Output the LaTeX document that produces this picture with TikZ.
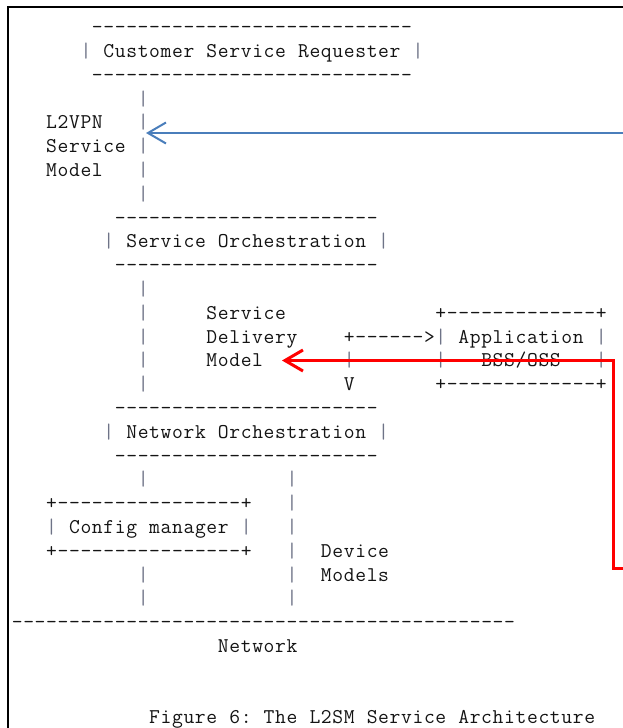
\documentclass[tikz,border=0pt]{standalone}
\usepackage{fontspec}
\usetikzlibrary{arrows.meta}
\definecolor{txtcol}{RGB}{20,20,20}
\definecolor{pipecol}{RGB}{110,115,135}
\definecolor{bluearr}{RGB}{74,126,187}
\definecolor{redarr}{RGB}{255,0,0}
\newlength\cw
\setlength\cw{11.45pt}
\def\mono#1{\monoA#1\relax}
\def\monoA#1{\ifx#1\relax\else\makebox[\cw][c]{\ifx#1|\color{pipecol}\fi#1}\expandafter\monoA\fi}
\tikzset{
  asc/.style={inner sep=0pt, outer sep=0pt, anchor=base west, text=txtcol,
    font=\ttfamily\fontsize{21}{23.8}\selectfont},
  frameline/.style={line width=2pt, black},
  bluearrow/.style={line width=2pt, bluearr, -{Straight Barb[length=18pt,width=21pt,line width=2pt]}},
  redarrow/.style={line width=3pt, redarr, line join=miter, -{Straight Barb[length=18pt,width=21pt,line width=3pt]}}
}
\newcommand\cx[1]{11.5+11.45*#1}
\newcommand\ry[1]{-(33.7+23.8*#1)}
\begin{document}
\begin{tikzpicture}[x=1pt,y=1pt]
\useasboundingbox (0,0) rectangle (623,-728);
\fill[white] (0,0) rectangle (623,-728);
% frame
\draw[frameline] (8.3,-728) -- (8.3,-6.8) -- (623,-6.8);
% Customer Service Requester
\node[asc] (csrTop) at ({\cx{7}},{\ry{0}}) {\mono{----------------------------}};
\node[asc] (csr) at ({\cx{6}},{\ry{1}}) {\mono{|~Customer~Service~Requester~|}};
\node[asc] (csrBot) at ({\cx{7}},{\ry{2}}) {\mono{----------------------------}};
% L2VPN service model
\node[asc] (v3) at ({\cx{11}},{\ry{3}}) {\mono{|}};
\node[asc] (l2a) at ({\cx{3}},{\ry{4}}) {\mono{L2VPN~~~|}};
\node[asc] (l2b) at ({\cx{3}},{\ry{5}}) {\mono{Service~|}};
\node[asc] (l2c) at ({\cx{3}},{\ry{6}}) {\mono{Model~~~|}};
\node[asc] (v7) at ({\cx{11}},{\ry{7}}) {\mono{|}};
% Service Orchestration
\node[asc] (soTop) at ({\cx{9}},{\ry{8}}) {\mono{-----------------------}};
\node[asc] (so) at ({\cx{8}},{\ry{9}}) {\mono{|~Service~Orchestration~|}};
\node[asc] (soBot) at ({\cx{9}},{\ry{10}}) {\mono{-----------------------}};
% Service delivery model
\node[asc] (v11) at ({\cx{11}},{\ry{11}}) {\mono{|}};
\node[asc] (sdA) at ({\cx{11}},{\ry{12}}) {\mono{|~~~~~Service}};
\node[asc] (appTop) at ({\cx{37}},{\ry{12}}) {\mono{+-------------+}};
\node[asc] (sdB) at ({\cx{11}},{\ry{13}}) {\mono{|~~~~~Delivery~~~~+------>|~Application~|}};
\node[asc] (sdC) at ({\cx{11}},{\ry{14}}) {\mono{|~~~~~Model~~~~~~~|~~~~~~~|~~~BSS/OSS~~~|}};
\node[asc] (v15) at ({\cx{11}},{\ry{15}}) {\mono{|}};
\node[asc] (vdown) at ({\cx{29}},{\ry{15}}) {\mono{V}};
\node[asc] (appBot) at ({\cx{37}},{\ry{15}}) {\mono{+-------------+}};
% Network Orchestration
\node[asc] (noTop) at ({\cx{9}},{\ry{16}}) {\mono{-----------------------}};
\node[asc] (no) at ({\cx{8}},{\ry{17}}) {\mono{|~Network~Orchestration~|}};
\node[asc] (noBot) at ({\cx{9}},{\ry{18}}) {\mono{-----------------------}};
% Config manager and device models
\node[asc] (a19) at ({\cx{11}},{\ry{19}}) {\mono{|}};
\node[asc] (b19) at ({\cx{24}},{\ry{19}}) {\mono{|}};
\node[asc] (cmTop) at ({\cx{3}},{\ry{20}}) {\mono{+----------------+}};
\node[asc] (b20) at ({\cx{24}},{\ry{20}}) {\mono{|}};
\node[asc] (cm) at ({\cx{3}},{\ry{21}}) {\mono{|~Config~manager~|}};
\node[asc] (b21) at ({\cx{24}},{\ry{21}}) {\mono{|}};
\node[asc] (cmBot) at ({\cx{3}},{\ry{22}}) {\mono{+----------------+}};
\node[asc] (dmA) at ({\cx{24}},{\ry{22}}) {\mono{|~~Device}};
\node[asc] (a23) at ({\cx{11}},{\ry{23}}) {\mono{|}};
\node[asc] (dmB) at ({\cx{24}},{\ry{23}}) {\mono{|~~Models}};
\node[asc] (a24) at ({\cx{11}},{\ry{24}}) {\mono{|}};
\node[asc] (b24) at ({\cx{24}},{\ry{24}}) {\mono{|}};
% Network
\node[asc] (netLine) at ({\cx{0}},{\ry{25}}) {\mono{--------------------------------------------}};
\node[asc] (net) at ({\cx{18}},{\ry{26}}) {\mono{Network}};
% caption
\node[asc] (cap) at ({\cx{12}},{\ry{29}}) {\mono{Figure~6:~The~L2SM~Service~Architecture}};
% overlay arrows
\coordinate (blueStart) at (623,-133);
\coordinate (blueTip) at (146,-133);
\draw[bluearrow] (blueStart) -- (blueTip);
\coordinate (redStart) at (623,-568.5);
\coordinate (redC1) at (613.7,-568.5);
\coordinate (redC2) at (613.7,-360.5);
\coordinate (redTip) at (282,-360.5);
\draw[redarrow] (redStart) -- (redC1) -- (redC2) -- (redTip);
\end{tikzpicture}
\end{document}
